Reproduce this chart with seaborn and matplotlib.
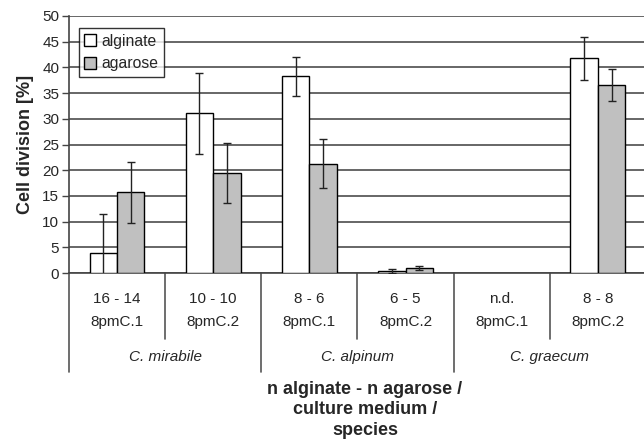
import numpy as np
import pandas as pd
import matplotlib.pyplot as plt
import seaborn as sns

sns.set_style("white")
plt.rcParams['font.family'] = ['Liberation Sans', 'DejaVu Sans']

# data
counts = ['16 - 14', '10 - 10', '8 - 6', '6 - 5', 'n.d.', '8 - 8']
media = ['8pmC.1', '8pmC.2', '8pmC.1', '8pmC.2', '8pmC.1', '8pmC.2']
species = ['C. mirabile', 'C. alpinum', 'C. graecum']
alginate = [3.9, 31.1, 38.3, 0.4, np.nan, 41.8]
alginate_err = [7.6, 7.9, 3.8, 0.35, np.nan, 4.2]
agarose = [15.7, 19.5, 21.3, 1.0, np.nan, 36.6]
agarose_err = [5.9, 5.8, 4.7, 0.35, np.nan, 3.1]

groups = [f"{c}\n{m}" for c, m in zip(counts, media)]
df = pd.DataFrame({
    'group': groups * 2,
    'gel': ['alginate'] * 6 + ['agarose'] * 6,
    'value': alginate + agarose,
    'err': alginate_err + agarose_err,
})

fig = plt.figure(figsize=(6.44, 4.44), dpi=100)
ax = fig.add_axes([0.107, 0.385, 0.896, 0.579])

sns.barplot(data=df, x='group', y='value', hue='gel', order=groups,
            hue_order=['alginate', 'agarose'],
            palette={'alginate': 'white', 'agarose': '#c0c0c0'},
            edgecolor='black', linewidth=1, width=0.57, errorbar=None,
            ax=ax, zorder=3)

# error bars on top of the seaborn bars
for cont, gel in zip(ax.containers, ['alginate', 'agarose']):
    sub = df[df['gel'] == gel].set_index('group')
    for bar in cont:
        h = bar.get_height()
        if np.isnan(h):
            continue
        xc = bar.get_x() + bar.get_width() / 2
        i = int(round(xc))
        e = sub.loc[groups[i], 'err']
        ax.errorbar(xc, h, yerr=e, fmt='none', ecolor='#222222',
                    elinewidth=1, capsize=3, capthick=1, zorder=4)

ax.set_ylim(0, 50)
ax.set_xlim(-0.5, 5.5)
ax.set_yticks(np.arange(0, 51, 5))
ax.tick_params(axis='y', labelsize=11, length=5, width=1, color='#444444', left=True, pad=2)
ax.set_xticks([])
ax.set_xlabel('')
ax.set_ylabel('Cell division [%]', fontsize=13, fontweight='bold', labelpad=6)
ax.yaxis.grid(True, color='#5a5a5a', linewidth=1.3, zorder=0)
ax.set_axisbelow(True)
for s in ['top', 'right']:
    ax.spines[s].set_visible(False)
ax.spines['left'].set_color('#444444')
ax.spines['bottom'].set_color('#444444')
ax.spines['left'].set_linewidth(1.2)
ax.spines['bottom'].set_linewidth(1.2)

# multi-level category axis
tr = ax.get_xaxis_transform()
for i, (c, m) in enumerate(zip(counts, media)):
    ax.text(i, -0.101, c, transform=tr, ha='center', va='center', fontsize=11)
    ax.text(i, -0.191, m, transform=tr, ha='center', va='center', fontsize=11)
for k, sp in enumerate(species):
    ax.text(2 * k + 0.5, -0.327, sp, transform=tr, ha='center', va='center',
            fontsize=11, style='italic')
for i in range(7):
    bottom = -0.385 if i % 2 == 0 else -0.257
    ax.plot([i - 0.5, i - 0.5], [0, bottom], transform=tr, color='#555555',
            lw=1.2, clip_on=False)

ax.text(0.513, -0.418, 'n alginate - n agarose /\nculture medium /\nspecies',
        transform=ax.transAxes, ha='center', va='top', fontsize=13,
        fontweight='bold', linespacing=1.3)

leg = ax.legend(loc='upper left', bbox_to_anchor=(0.017, 0.953), fontsize=11.3,
                frameon=True, fancybox=False, edgecolor='black',
                handlelength=0.75, handleheight=0.75, handletextpad=0.35,
                borderpad=0.35, labelspacing=0.5, borderaxespad=0)
leg.get_frame().set_linewidth(1)
leg.set_zorder(5)

fig.savefig('out.png', dpi=100)
